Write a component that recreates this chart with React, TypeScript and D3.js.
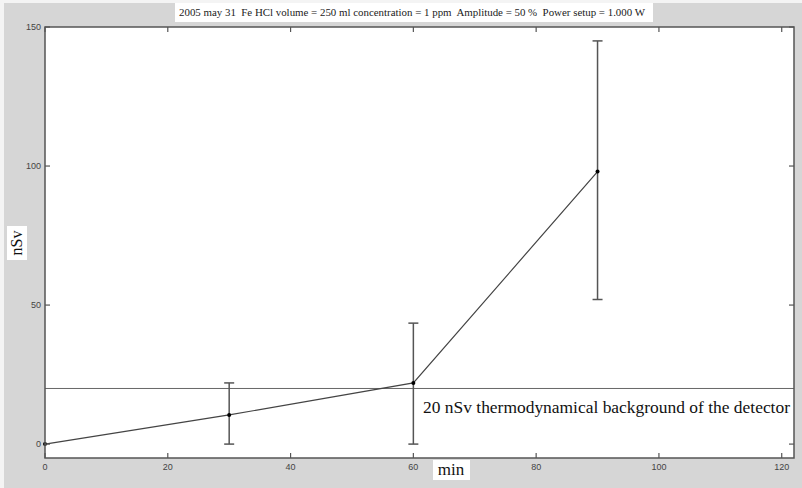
import React from "react";
import * as d3 from "d3";

const minutes = [0, 30, 60, 90];
const dose = [0, 10.5, 22, 98];
const errLow = [0, 0, 0, 52];
const errHigh = [0, 22, 43.5, 145];
const xTicks = [0, 20, 40, 60, 80, 100, 120];
const yTicks = [0, 50, 100, 150];
const background = 20;
const titleText = "2005 may 31  Fe HCl volume = 250 ml concentration = 1 ppm  Amplitude = 50 %  Power setup = 1.000 W";
const annotation = "20 nSv thermodynamical background of the detector";

export default function App() {
  const W = 802, H = 488;
  const left = 45, right = 794, top = 27, bottom = 458;
  const x = d3.scaleLinear().domain([0, 122]).range([left, right]);
  const y = d3.scaleLinear().domain([-5, 150]).range([bottom, top]);
  const line = d3.line<number>().x((_, i) => x(minutes[i])).y((d) => y(d));
  const axisCol = "#555";
  const tl = 5;
  return (
    <svg width={W} height={H} style={{ position: "absolute", left: 0, top: 0 }}>
      <rect x={0} y={0} width={W} height={H} fill="#f4f4f4" />
      <rect x={4} y={3} width={W - 4} height={H - 3} fill="#d6d6d6" />
      <rect x={left} y={top} width={right - left} height={bottom - top} fill="#fff" />
      {/* title */}
      <rect x={175} y={3} width={478} height={19} fill="#fff" />
      <text x={179} y={16} fontFamily="Liberation Serif" fontSize={10} fill="#222" textLength={466} lengthAdjust="spacingAndGlyphs" style={{ whiteSpace: "pre" }}>{titleText}</text>
      {/* background line */}
      <line x1={left} x2={right} y1={y(background)} y2={y(background)} stroke="#666" strokeWidth={1} />
      <text x={423} y={413} fontFamily="Liberation Serif" fontSize={16} fill="#111" textLength={367} lengthAdjust="spacingAndGlyphs">{annotation}</text>
      {/* error bars */}
      {minutes.map((m, i) => (errHigh[i] > errLow[i] ? (
        <g key={"e" + i} stroke="#555" strokeWidth={1.5}>
          <line x1={x(m)} x2={x(m)} y1={y(errLow[i])} y2={y(errHigh[i])} />
          <line x1={x(m) - 5} x2={x(m) + 5} y1={y(errLow[i])} y2={y(errLow[i])} />
          <line x1={x(m) - 5} x2={x(m) + 5} y1={y(errHigh[i])} y2={y(errHigh[i])} />
        </g>
      ) : null))}
      <path d={line(dose) || ""} fill="none" stroke="#444" strokeWidth={1.2} />
      {minutes.map((m, i) => (
        <circle key={"p" + i} cx={x(m)} cy={y(dose[i])} r={2} fill="#000" />
      ))}
      {/* axes box */}
      <rect x={left} y={top} width={right - left} height={bottom - top} fill="none" stroke={axisCol} strokeWidth={1.5} />
      {xTicks.map((t) => (
        <g key={"x" + t}>
          <line x1={x(t)} x2={x(t)} y1={bottom} y2={bottom - tl} stroke={axisCol} strokeWidth={1.2} />
          <line x1={x(t)} x2={x(t)} y1={top} y2={top + tl} stroke={axisCol} strokeWidth={1.2} />
          <text x={x(t)} y={470} textAnchor="middle" fontFamily="Liberation Sans Narrow, Liberation Sans" fontSize={9} fill="#444">{t}</text>
        </g>
      ))}
      {yTicks.map((t) => (
        <g key={"y" + t}>
          <line x1={left} x2={left + tl} y1={y(t)} y2={y(t)} stroke={axisCol} strokeWidth={1.2} />
          <line x1={right} x2={right - tl} y1={y(t)} y2={y(t)} stroke={axisCol} strokeWidth={1.2} />
          <text x={41} y={y(t) + 3} textAnchor="end" fontFamily="Liberation Sans Narrow, Liberation Sans" fontSize={9} fill="#444">{t}</text>
        </g>
      ))}
      {/* axis labels */}
      <rect x={433} y={460} width={37} height={20} fill="#fff" />
      <text x={451} y={475} textAnchor="middle" fontFamily="Liberation Serif" fontSize={17} fill="#111">min</text>
      <rect x={7} y={226} width={20} height={34} fill="#fff" />
      <text transform={`translate(22,243) rotate(-90)`} textAnchor="middle" fontFamily="Liberation Serif" fontSize={16} fill="#111">nSv</text>
    </svg>
  );
}
